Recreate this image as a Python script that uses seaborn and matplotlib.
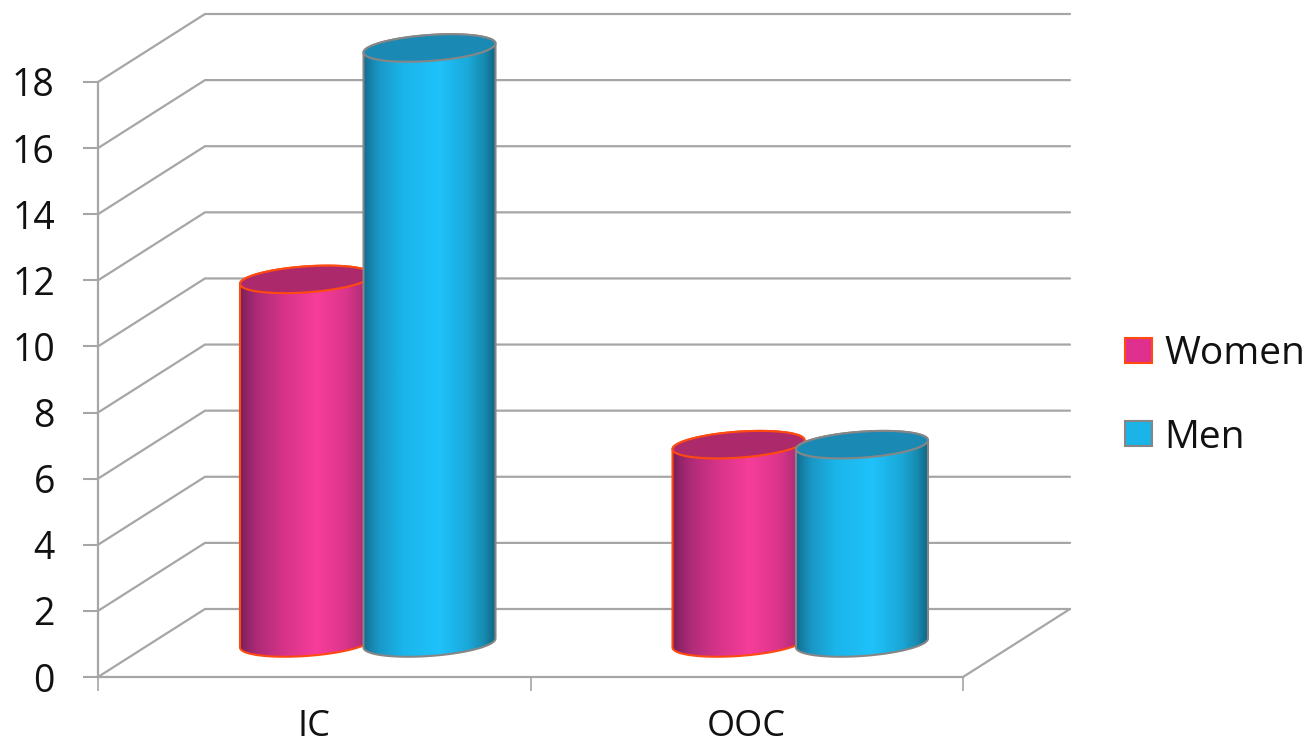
import numpy as np
import pandas as pd
import seaborn as sns
import matplotlib
matplotlib.use("Agg")
import matplotlib.pyplot as plt
from matplotlib.colors import LinearSegmentedColormap
from matplotlib.patches import Patch, Polygon

# Chart values
categories = ["IC", "OOC"]
women = [11, 6]
men = [18, 6]
y_ticks = list(range(0, 19, 2))

# Colours
GRID = "#a6a6a6"
WOMEN_EDGE = "#ff4a10"
MEN_EDGE = "#868686"
WOMEN_TOP = "#ac2a6c"
MEN_TOP = "#1a8ab5"
WOMEN_LEGEND = "#e0308f"
MEN_LEGEND = "#1ab4e8"
women_shade = LinearSegmentedColormap.from_list("women_shade", [
    (0.0, "#7c1f57"), (0.06, "#94256a"), (0.14, "#b02c78"), (0.35, "#d8348a"),
    (0.58, "#f73d9a"), (0.8, "#dc358c"), (0.93, "#b42d78"), (1.0, "#9c2a6c")])
men_shade = LinearSegmentedColormap.from_list("men_shade", [
    (0.0, "#136a8c"), (0.05, "#1780a8"), (0.12, "#1a98c6"), (0.3, "#1ab5ea"),
    (0.58, "#1fc2fb"), (0.8, "#1aa8d8"), (0.92, "#178aaf"), (1.0, "#0f6888")])

W, H = 1309, 744
sns.set_theme(style="white")
plt.rcParams["font.family"] = ["Open Sans", "DejaVu Sans"]

fig = plt.figure(figsize=(W / 100, H / 100), dpi=100)
# Front plane of the 3-D box: x 98..963 px, y 677..82 px
ax = fig.add_axes([98 / W, 1 - 677 / H, 865 / W, 595 / H])

table = pd.DataFrame({
    "category": categories * 2,
    "group": ["Women"] * len(women) + ["Men"] * len(men),
    "value": women + men,
})
sns.barplot(data=table, x="category", y="value", hue="group",
            hue_order=["Women", "Men"], width=0.571, gap=-0.069,
            palette=[WOMEN_LEGEND, MEN_LEGEND], legend=False, ax=ax)

ax.set_xlim(-0.5, 1.5)
ax.set_ylim(0, 18)
x_unit = 865 / 2
y_unit = 595 / 18
DEPTH_X = 107 / x_unit   # receding box depth, in data units
DEPTH_Y = 68 / y_unit

# Walls and floor
for v in y_ticks:
    ax.plot([-0.5, -0.5 + DEPTH_X, 1.5 + DEPTH_X], [v, v + DEPTH_Y, v + DEPTH_Y],
            color=GRID, lw=1.6, clip_on=False, zorder=1, solid_joinstyle="miter")
ax.plot([1.5, 1.5 + DEPTH_X], [0, DEPTH_Y], color=GRID, lw=1.6, clip_on=False, zorder=1)


def ellipse(cx, cy, a, t):
    """Tilted ellipse of a cylinder end, seen from above and the side."""
    return cx + a * np.cos(t), cy + (13 / y_unit) * np.sin(t) + (4.5 / y_unit) * np.cos(t)


gradient = np.linspace(0, 1, 256).reshape(1, -1)
bars = list(ax.patches)
n = len(categories)
styles = [(women_shade, WOMEN_TOP, WOMEN_EDGE, 3)] * n + [(men_shade, MEN_TOP, MEN_EDGE, 4)] * n

for bar, (shade, top_colour, edge, z) in zip(bars, styles):
    a = bar.get_width() / 2
    cx = bar.get_x() + a + DEPTH_X / 2
    base = DEPTH_Y / 2
    top = bar.get_height() + base
    bar.set_visible(False)

    lower = np.linspace(np.pi, 2 * np.pi, 80)
    upper = np.linspace(0, np.pi, 80)
    bx, by = ellipse(cx, base, a, lower)
    tx, ty = ellipse(cx, top, a, upper)
    side = Polygon(np.column_stack([np.r_[bx, tx], np.r_[by, ty]]), closed=True,
                   fill=False, ec=edge, lw=1.5, clip_on=False, zorder=z + 0.2)
    ax.add_patch(side)

    image = ax.imshow(gradient, cmap=shade, aspect="auto", interpolation="bilinear",
                      extent=(cx - a, cx + a, base - 1, top + 1), zorder=z)
    image.set_clip_box(fig.bbox)
    image.set_clip_path(side)

    full = np.linspace(0, 2 * np.pi, 160)
    ex, ey = ellipse(cx, top, a, full)
    ax.add_patch(Polygon(np.column_stack([ex, ey]), closed=True, fc=top_colour, ec=edge,
                         lw=1.5, clip_on=False, zorder=z + 0.3))

ax.set_xlim(-0.5, 1.5)
ax.set_ylim(0, 18)

# Axes
for name in ("top", "right"):
    ax.spines[name].set_visible(False)
for name in ("left", "bottom"):
    ax.spines[name].set_color(GRID)
    ax.spines[name].set_linewidth(1.6)
ax.set_xlabel("")
ax.set_ylabel("")
ax.set_yticks(y_ticks)
ax.set_xticks([0, 1])
ax.set_xticklabels(categories)
ax.set_xticks([-0.5, 0.5, 1.5], minor=True)
ax.tick_params(axis="y", length=11, width=1.5, color=GRID, pad=20,
               labelsize=27, labelcolor="#111111", left=True)
ax.tick_params(axis="x", which="major", length=0, pad=23, labelsize=26, labelcolor="#111111")
ax.tick_params(axis="x", which="minor", length=10, width=1.2, color=GRID, bottom=True)

# Legend
handles = [Patch(fc=WOMEN_LEGEND, ec=WOMEN_EDGE, lw=1.5, label="Women"),
           Patch(fc=MEN_LEGEND, ec=MEN_EDGE, lw=1.5, label="Men")]
fig.legend(handles=handles, loc="center left", bbox_to_anchor=(1125 / W, 1 - 396 / H),
           frameon=False, fontsize=28, labelcolor="#111111", handlelength=0.7,
           handleheight=0.62, handletextpad=0.31, labelspacing=1.16, borderpad=0,
           borderaxespad=0)

fig.savefig("out.png", dpi=100, facecolor="white")
